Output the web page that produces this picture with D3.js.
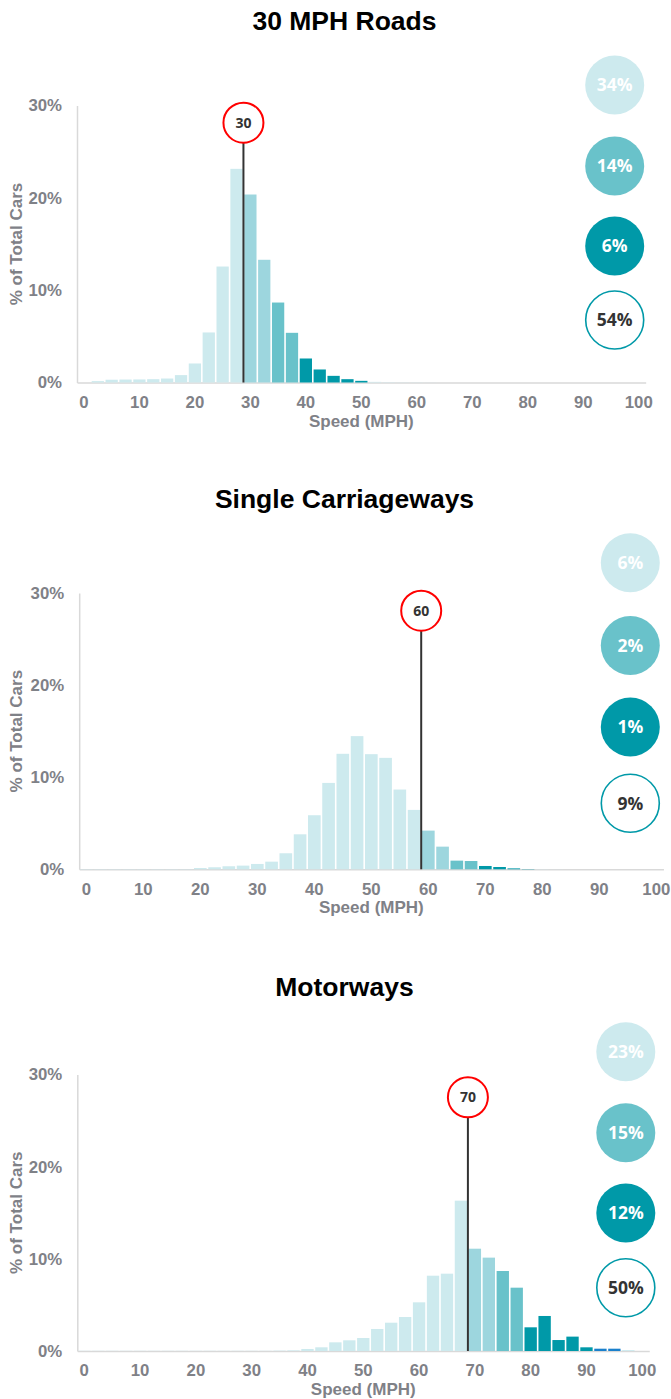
<!DOCTYPE html>
<html>
<head>
<meta charset="utf-8">
<script src="https://cdn.jsdelivr.net/npm/d3@7"></script>
<style>
  body { margin: 0; background: #fff; }
  svg { display: block; }
</style>
</head>
<body>
<svg id="chart" width="671" height="1399"></svg>
<script>
// ---- data ----
const speeds = [0, 2.5, 5, 7.5, 10, 12.5, 15, 17.5, 20, 22.5, 25, 27.5, 30, 32.5, 35, 37.5,
  40, 42.5, 45, 47.5, 50, 52.5, 55, 57.5, 60, 62.5, 65, 67.5, 70, 72.5, 75, 77.5,
  80, 82.5, 85, 87.5, 90, 92.5, 95, 97.5, 100];
const speedTicks = [0, 10, 20, 30, 40, 50, 60, 70, 80, 90, 100];
const pctTicks = [0, 10, 20, 30];

const titles = ["30 MPH Roads", "Single Carriageways", "Motorways"];
const limits = [30, 60, 70];

const roads30 = [0, 0.15, 0.3, 0.32, 0.33, 0.36, 0.43, 0.8, 2.06, 5.42, 12.56, 23.14, 20.36, 13.29, 8.66, 5.38,
  2.6, 1.41, 0.72, 0.36, 0.18, 0.07, 0.03, 0.02, 0.02, 0.01, 0, 0, 0, 0, 0, 0,
  0, 0, 0, 0, 0, 0, 0, 0, 0];
const singleCw = [0.03, 0.03, 0.03, 0.03, 0.03, 0.03, 0.03, 0.03, 0.14, 0.22, 0.33, 0.4, 0.58, 0.83, 1.74, 3.8,
  5.87, 9.38, 12.54, 14.46, 12.5, 12.1, 8.66, 6.45, 4.2, 2.46, 0.94, 0.9, 0.36, 0.25, 0.1, 0.03,
  0.02, 0.01, 0, 0, 0, 0, 0, 0, 0];
const motorways = [0.02, 0.02, 0.02, 0.02, 0.02, 0.02, 0.02, 0.02, 0.02, 0.02, 0.02, 0.02, 0.02, 0.02, 0.04, 0.07,
  0.22, 0.4, 0.94, 1.16, 1.41, 2.39, 3.07, 3.69, 5.28, 8.17, 8.39, 16.31, 11.1, 10.13, 8.68, 6.87,
  2.57, 3.8, 1.19, 1.56, 0.4, 0.25, 0.25, 0.1, 0];
const series = [roads30, singleCw, motorways];

// share of cars: 0-5 over, 5-10 over, 10+ over, total over
const shares = [["34%", "14%", "6%", "54%"], ["6%", "2%", "1%", "9%"], ["23%", "15%", "12%", "50%"]];
const blueSpeeds = [[], [], [92.5, 95]];
const fadeFrom = [52.5, 80, 97.5];

// ---- layout per panel ----
const layout = [
  { titleY: 30, left: 77, bw: 13.87, base: 382.5, top: 105.5, markY: 122.7, legX: 614.7, legY: [85, 166, 246, 320] },
  { titleY: 508, left: 79.2, bw: 14.25, base: 869.3, top: 593, markY: 610.7, legX: 630.3, legY: [562.7, 645.5, 727, 803.3] },
  { titleY: 996, left: 77.3, bw: 13.95, base: 1351, top: 1074.5, markY: 1097.3, legX: 625.8, legY: [1051.7, 1132.7, 1213, 1287.8] }
];

const colLight = "#cdeaee", col1 = "#9dd6de", col2 = "#69c2ca", col3 = "#0099a8", colBlue = "#1a80cc";
const legFill = [colLight, col2, col3, "#fff"];
const grey = "#7f8187";
const sans = "'Liberation Sans', Arial, sans-serif";
const label = "'Open Sans', 'Noto Sans', sans-serif";

const svg = d3.select("#chart");

layout.forEach((L, p) => {
  const lim = limits[p];
  const g = svg.append("g");

  const x = d3.scaleBand()
    .domain(speeds)
    .range([L.left, L.left + L.bw * speeds.length])
    .padding(0);
  const y = d3.scaleLinear().domain([0, 30]).range([L.base, L.top]);

  // title
  g.append("text")
    .attr("x", 344.5).attr("y", L.titleY)
    .attr("text-anchor", "middle")
    .style("font", `bold 26.5px ${sans}`)
    .attr("fill", "#000")
    .text(titles[p]);

  // axes
  const yAxis = g.append("g")
    .attr("transform", `translate(${L.left},0)`)
    .call(d3.axisLeft(y).tickValues(pctTicks).tickSize(0).tickPadding(15).tickFormat(d => d + "%"));
  const xAxis = g.append("g")
    .attr("transform", `translate(0,${L.base})`)
    .call(d3.axisBottom(x).tickValues(speedTicks).tickSize(0).tickPadding(13.5));
  [yAxis, xAxis].forEach(a => {
    a.select(".domain").attr("stroke", "#d9d9d9").attr("stroke-width", 1.5);
    a.selectAll("text").style("font", `bold 16.8px ${sans}`).attr("fill", grey);
  });

  // axis titles
  g.append("text")
    .attr("transform", `translate(21.5,${(L.base + L.top) / 2}) rotate(-90)`)
    .attr("text-anchor", "middle")
    .style("font", `bold 17px ${sans}`)
    .attr("fill", grey)
    .text("% of Total Cars");
  g.append("text")
    .attr("x", x(50) + x.bandwidth() / 2).attr("y", L.base + 44)
    .attr("text-anchor", "middle")
    .style("font", `bold 17px ${sans}`)
    .attr("fill", grey)
    .text("Speed (MPH)");

  // bars
  const barColor = s => {
    if (blueSpeeds[p].includes(s)) return colBlue;
    if (s < lim || s >= fadeFrom[p]) return colLight;
    if (s < lim + 5) return col1;
    if (s < lim + 10) return col2;
    return col3;
  };
  g.selectAll("rect.bar")
    .data(speeds.map((s, i) => ({ s, v: series[p][i] })))
    .enter().append("rect")
    .attr("class", "bar")
    .attr("x", d => x(d.s) + 0.8)
    .attr("width", x.bandwidth() - 1.6)
    .attr("y", d => y(d.v))
    .attr("height", d => y(0) - y(d.v))
    .attr("fill", d => barColor(d.s));

  // speed limit marker
  const lx = x(lim);
  const r = 20;
  g.append("line")
    .attr("x1", lx).attr("x2", lx)
    .attr("y1", L.markY + r).attr("y2", L.base)
    .attr("stroke", "#333").attr("stroke-width", 2);
  g.append("circle")
    .attr("cx", lx).attr("cy", L.markY).attr("r", r)
    .attr("fill", "#fff").attr("stroke", "#f00").attr("stroke-width", 2);
  g.append("text")
    .attr("x", lx).attr("y", L.markY)
    .attr("dy", "0.36em")
    .attr("text-anchor", "middle")
    .style("font", `bold 14px ${label}`)
    .attr("fill", "#333")
    .text(lim);

  // share bubbles
  const leg = g.selectAll("g.leg")
    .data(shares[p])
    .enter().append("g")
    .attr("class", "leg")
    .attr("transform", (d, i) => `translate(${L.legX},${L.legY[i]})`);
  leg.append("circle")
    .attr("r", (d, i) => i === 3 ? 29 : 29.5)
    .attr("fill", (d, i) => legFill[i])
    .attr("stroke", (d, i) => i === 3 ? col3 : "none")
    .attr("stroke-width", 1.6);
  leg.append("text")
    .attr("dy", "0.36em")
    .attr("text-anchor", "middle")
    .style("font", `bold 17.5px ${label}`)
    .attr("fill", (d, i) => i === 3 ? "#333" : "#fff")
    .text(d => d);
});
</script>
</body>
</html>
